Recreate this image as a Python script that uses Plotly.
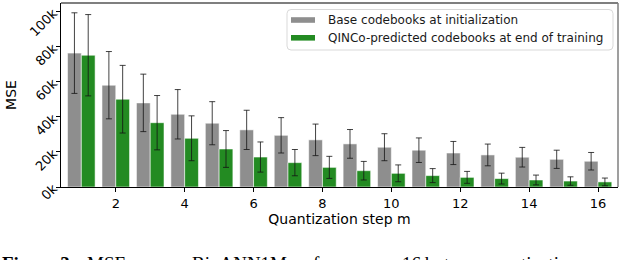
import plotly.graph_objects as go

steps = list(range(1, 17))
base_mse = [76400, 58100, 48000, 41500, 36400, 32600, 29500, 26900, 24600, 22700, 21000, 19400, 18300, 17000, 15800, 14700]
base_err = [23000, 19200, 16400, 14100, 12300, 11200, 10100, 9000, 8200, 7700, 7000, 6600, 6200, 5600, 5200, 5000]
qinco_mse = [75200, 50100, 36700, 27800, 21700, 17100, 13900, 11200, 9300, 7800, 6500, 5500, 4800, 4000, 3400, 2900]
qinco_err = [23200, 19300, 15500, 12800, 10500, 8600, 7500, 6300, 5300, 4800, 4000, 3400, 3100, 2800, 2400, 2200]
y_tickvals = [0, 20000, 40000, 60000, 80000, 100000]
y_ticktext = ["0k", "20k", "40k", "60k", "80k", "100k"]
x_tickvals = [2, 4, 6, 8, 10, 12, 14, 16]
series_names = ["Base codebooks at initialization", "QINCo-predicted codebooks at end of training"]
caption_words = ["<b>Figure 3:</b>", "MSE", "on", "BigANN1M", "for", "16", "bytes", "quantization"]

W, H = 620, 260
L, R, T, B = 61, 618, 3, 187


def px2x(px):
    return (px - L) / (R - L)


def py2y(py):
    return (B - py) / (B - T)


GRAY = "#8e8e8e"
GREEN = "#238b22"
ERR = "rgba(20,20,20,0.8)"
FONT = "DejaVu Sans"

fig = go.Figure()
fig.add_trace(go.Bar(
    x=steps, y=base_mse, name=series_names[0],
    marker=dict(color=GRAY, line=dict(color="rgba(255,255,255,0.55)", width=1)),
    error_y=dict(type="data", array=base_err, color=ERR, thickness=1, width=3),
    showlegend=False,
))
fig.add_trace(go.Bar(
    x=steps, y=qinco_mse, name=series_names[1],
    marker=dict(color=GREEN, line=dict(color="rgba(255,255,255,0.55)", width=1)),
    error_y=dict(type="data", array=qinco_err, color=ERR, thickness=1, width=3),
    showlegend=False,
))

shapes = [
    dict(type="line", xref="paper", yref="paper", x0=0, x1=1, y0=1, y1=1,
         line=dict(color="#7f7f7f", width=2)),
    dict(type="line", xref="paper", yref="paper", x0=1, x1=1, y0=0, y1=1,
         line=dict(color="#7f7f7f", width=1.5)),
]

# legend box (rounded)
lx0, lx1, ly0, ly1, r = 287, 613, 9.5, 50, 4
rx, ry = r / (R - L), r / (B - T)
X0, X1, Y0, Y1 = px2x(lx0), px2x(lx1), py2y(ly0), py2y(ly1)
path = (f"M {X0+rx},{Y0} L {X1-rx},{Y0} Q {X1},{Y0} {X1},{Y0-ry} "
        f"L {X1},{Y1+ry} Q {X1},{Y1} {X1-rx},{Y1} L {X0+rx},{Y1} "
        f"Q {X0},{Y1} {X0},{Y1+ry} L {X0},{Y0-ry} Q {X0},{Y0} {X0+rx},{Y0} Z")
shapes.append(dict(type="path", xref="paper", yref="paper", path=path,
                   fillcolor="rgba(255,255,255,0.85)", line=dict(color="#d9d9d9", width=1)))
for (cy, col) in [(20, GRAY), (37.8, GREEN)]:
    shapes.append(dict(type="rect", xref="paper", yref="paper",
                       x0=px2x(291), x1=px2x(315), y0=py2y(cy - 2.8), y1=py2y(cy + 2.8),
                       fillcolor=col, line=dict(width=0)))

annotations = []
for (cy, txt) in [(20, series_names[0]), (38, series_names[1])]:
    annotations.append(dict(xref="paper", yref="paper", x=px2x(325.5), y=py2y(cy),
                            xanchor="left", yanchor="middle", text=txt, showarrow=False,
                            font=dict(family=FONT, size=12, color="#1a1a1a")))

# justified caption line (partly cut by the page edge, as in the reference)
caption_x = [0, 85, 150, 190, 311, 400, 423, 482]
for wx, word in zip(caption_x, caption_words):
    annotations.append(dict(xref="paper", yref="paper", x=px2x(wx), y=py2y(251),
                            xanchor="left", yanchor="top", text=word, showarrow=False,
                            font=dict(family="Liberation Serif", size=19, color="black")))

fig.update_layout(
    width=W, height=H,
    margin=dict(l=L, r=W - R, t=T, b=H - B, pad=0, autoexpand=False),
    paper_bgcolor="white", plot_bgcolor="white",
    barmode="group", bargap=0.2, bargroupgap=0,
    font=dict(family=FONT, color="black"),
    shapes=shapes, annotations=annotations,
    showlegend=False,
)
fig.update_xaxes(
    range=[0.41, 16.58], tickmode="array", tickvals=x_tickvals,
    ticks="outside", ticklen=4, tickwidth=1, tickcolor="black",
    showline=True, linecolor="black", linewidth=1, showgrid=False, zeroline=False,
    tickfont=dict(family=FONT, size=13), automargin=False,
    title=dict(text="Quantization step m", font=dict(family=FONT, size=14), standoff=2),
)
fig.update_yaxes(
    range=[0, 105000], tickmode="array", tickvals=y_tickvals, ticktext=y_ticktext,
    tickangle=-45, ticks="outside", ticklen=4, tickwidth=1, tickcolor="black",
    showline=True, linecolor="black", linewidth=1, showgrid=False, zeroline=False,
    tickfont=dict(family=FONT, size=13), automargin=False,
    title=dict(text="MSE", font=dict(family=FONT, size=14), standoff=6),
)

fig.write_html("out.html", config={"displayModeBar": False},
               post_script="document.body.style.margin='0';document.body.style.overflow='hidden';")
